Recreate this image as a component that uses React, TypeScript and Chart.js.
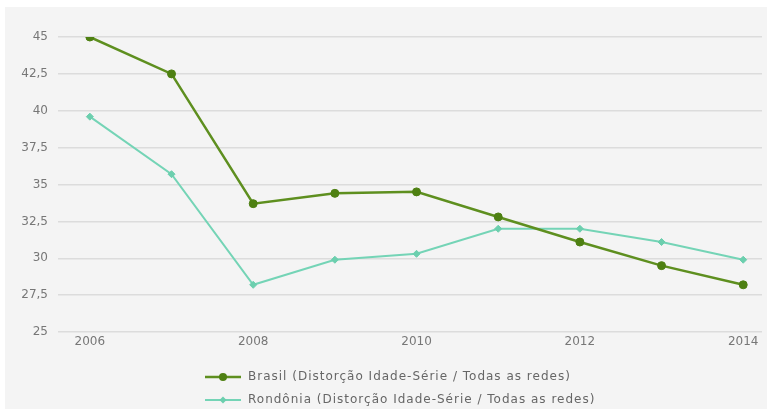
import React, { useEffect, useRef } from "react";
import { Chart, registerables } from "chart.js";

Chart.register(...registerables);

const years = [2006, 2007, 2008, 2009, 2010, 2011, 2012, 2013, 2014];
const xTickLabels = [2006, 2008, 2010, 2012, 2014];
const brasil = [45.0, 42.5, 33.7, 34.4, 34.5, 32.8, 31.1, 29.5, 28.2];
const rondonia = [39.6, 35.7, 28.2, 29.9, 30.3, 32.0, 32.0, 31.1, 29.9];
const seriesLabels = [
  "Brasil (Distorção Idade-Série / Todas as redes)",
  "Rondônia (Distorção Idade-Série / Todas as redes)",
];
const yMin = 25;
const yMax = 45;
const yStep = 2.5;

const FONT = "'DejaVu Sans', sans-serif";

const bgPlugin = {
  id: "bgPlugin",
  beforeDraw(chart: any) {
    const { ctx, width, height } = chart;
    ctx.save();
    ctx.fillStyle = "#ffffff";
    ctx.fillRect(0, 0, width, height);
    ctx.fillStyle = "#f4f4f4";
    ctx.fillRect(5, 7, width - 5, height - 7);
    ctx.restore();
  },
};

const legendPlugin = {
  id: "customLegend",
  afterDraw(chart: any) {
    const { ctx } = chart;
    ctx.save();
    chart.data.datasets.forEach((ds: any, i: number) => {
      const y = 377 + i * 23;
      const x0 = 205;
      ctx.strokeStyle = ds.borderColor;
      ctx.lineWidth = ds.borderWidth;
      ctx.beginPath();
      ctx.moveTo(x0, y);
      ctx.lineTo(x0 + 36, y);
      ctx.stroke();
      ctx.fillStyle = ds.pointBackgroundColor;
      ctx.beginPath();
      if (ds.pointStyle === "circle") {
        ctx.arc(x0 + 18, y, 4, 0, Math.PI * 2);
      } else {
        const r = 3.5;
        ctx.moveTo(x0 + 18, y - r);
        ctx.lineTo(x0 + 18 + r, y);
        ctx.lineTo(x0 + 18, y + r);
        ctx.lineTo(x0 + 18 - r, y);
        ctx.closePath();
      }
      ctx.fill();
      ctx.fillStyle = "#666666";
      ctx.font = `12px ${FONT}`;
      (ctx as any).letterSpacing = "1px";
      ctx.textBaseline = "middle";
      ctx.textAlign = "left";
      ctx.fillText(ds.label, x0 + 43, y);
      (ctx as any).letterSpacing = "0px";
    });
    ctx.restore();
  },
};

export default function App() {
  const ref = useRef<HTMLCanvasElement>(null);
  useEffect(() => {
    document.body.style.margin = "0";
    const chart = new Chart(ref.current!, {
      type: "line",
      data: {
        datasets: [
          {
            label: seriesLabels[0],
            data: years.map((y, i) => ({ x: y, y: brasil[i] })),
            borderColor: "#5e8f1f",
            backgroundColor: "#4e8012",
            pointBackgroundColor: "#4e8012",
            pointBorderColor: "#4e8012",
            borderWidth: 2.5,
            pointStyle: "circle",
            pointRadius: 4,
            pointBorderWidth: 1,
            tension: 0,
          },
          {
            label: seriesLabels[1],
            data: years.map((y, i) => ({ x: y, y: rondonia[i] })),
            borderColor: "#74d4b6",
            backgroundColor: "#6ccfae",
            pointBackgroundColor: "#6ccfae",
            pointBorderColor: "#6ccfae",
            borderWidth: 2,
            pointStyle: "rectRot",
            pointRadius: 3.5,
            pointBorderWidth: 1,
            tension: 0,
          },
        ],
      },
      options: {
        animation: false,
        responsive: false,
        maintainAspectRatio: false,
        layout: { padding: { top: 37, right: 2, bottom: 57, left: 0 } },
        plugins: {
          legend: { display: false },
          tooltip: { enabled: false },
        },
        scales: {
          x: {
            type: "linear",
            min: 2005.61,
            max: 2014.23,
            afterBuildTicks: (scale: any) => {
              scale.ticks = xTickLabels.map((v) => ({ value: v }));
            },
            afterFit: (scale: any) => {
              scale.height = 20;
            },
            grid: { display: false, drawTicks: false },
            border: { display: false },
            ticks: {
              padding: 3,
              color: "#777777",
              font: { family: FONT, size: 12 },
              callback: (v: any) => String(v),
              maxRotation: 0,
            },
          },
          y: {
            min: yMin,
            max: yMax,
            afterFit: (scale: any) => {
              scale.width = 58;
            },
            grid: { color: "#dcdcdc", lineWidth: 1.5, drawTicks: false },
            border: { display: false },
            ticks: {
              stepSize: yStep,
              padding: 10,
              color: "#777777",
              font: { family: FONT, size: 12 },
              callback: (v: any) => String(v).replace(".", ","),
            },
          },
        },
      },
      plugins: [bgPlugin, legendPlugin],
    });
    return () => chart.destroy();
  }, []);
  return (
    <div style={{ position: "absolute", left: 0, top: 0, width: 767, height: 409 }}>
      <canvas ref={ref} width={767} height={409} />
    </div>
  );
}
